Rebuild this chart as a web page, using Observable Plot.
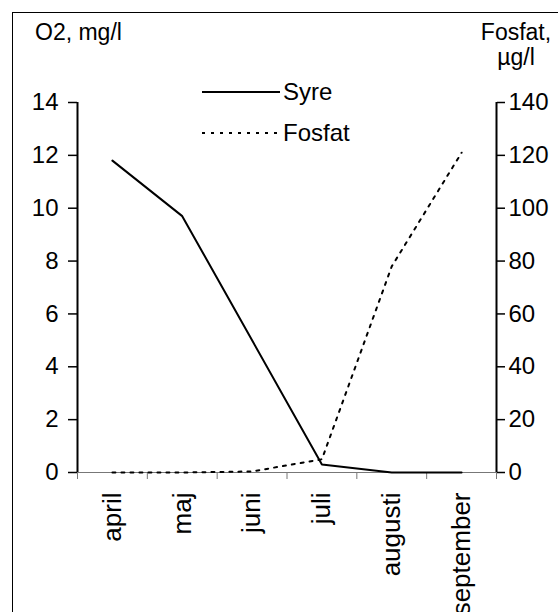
<!DOCTYPE html>
<html><head><meta charset="utf-8">
<script src="https://cdn.jsdelivr.net/npm/d3@7"></script>
<script src="https://cdn.jsdelivr.net/npm/@observablehq/plot@0.6"></script>
<style>
html,body{margin:0;padding:0;background:#fff;}
body{width:558px;height:612px;overflow:hidden;position:relative;font-family:"Liberation Sans",Arial,sans-serif;}
#frame{position:absolute;left:12px;top:12px;width:800px;height:800px;border:1px solid #000;box-sizing:border-box;}
#chart{position:absolute;left:0;top:0;}
.lbl{position:absolute;font-size:23px;line-height:25px;color:#000;white-space:nowrap;}
#legend{position:absolute;left:0;top:0;}
</style></head><body>
<div id="frame"></div>
<div id="chart"></div>
<div class="lbl" style="left:35px;top:20px">O2, mg/l</div>
<div class="lbl" style="left:456px;top:20px;width:120px;text-align:center">Fosfat,<br>µg/l</div>
<div id="legend"></div>
<script>
const months = ["april", "maj", "juni", "juli", "augusti", "september"];
const syre = [11.8, 9.7, 5.0, 0.3, 0, 0];
const fosfat = [0, 0, 0.4, 5, 78, 121];
const o2Ticks = [0, 2, 4, 6, 8, 10, 12, 14];
const fosfatTicks = [0, 20, 40, 60, 80, 100, 120, 140];
const seriesNames = ["Syre", "Fosfat"];

const ratio = fosfatTicks[fosfatTicks.length - 1] / o2Ticks[o2Ticks.length - 1];
const rows = months.map((m, i) => ({month: m, pos: i + 0.5, syre: syre[i], fosfat: fosfat[i]}));
const bounds = d3.range(months.length + 1);
const yMin = o2Ticks[0], yMax = o2Ticks[o2Ticks.length - 1];

const chart = Plot.plot({
  width: 558, height: 612,
  marginLeft: 77, marginRight: 62, marginTop: 102, marginBottom: 140,
  style: {fontFamily: "Liberation Sans, Arial, sans-serif", fontSize: "24px", color: "#000", background: "transparent", overflow: "visible"},
  x: {type: "linear", domain: [0, months.length]},
  y: {domain: [yMin, yMax]},
  marks: [
    Plot.axisX(bounds, {anchor: "bottom", tickSize: 7, tickFormat: () => "", stroke: "#777", strokeWidth: 1, label: null}),
    Plot.axisX(rows.map(r => r.pos), {anchor: "bottom", tickSize: 0, tickPadding: 20, tickRotate: -90,
      tickFormat: d => months[Math.floor(d)], label: null, fontSize: 26, fill: "#000"}),
    Plot.axisY(o2Ticks, {anchor: "left", tickSize: 9, tickPadding: 10, stroke: "#000", strokeWidth: 1.5, label: null, fontSize: 24, fill: "#000"}),
    Plot.axisY(o2Ticks, {anchor: "right", tickSize: 8, tickPadding: 4, stroke: "#000", strokeWidth: 1.5, label: null, fontSize: 24, fill: "#000",
      tickFormat: d => fosfatTicks[o2Ticks.indexOf(d)]}),
    Plot.ruleY([yMin], {stroke: "#777", strokeWidth: 1}),
    Plot.ruleX([0, months.length], {y1: yMin, y2: yMax, stroke: "#000", strokeWidth: 2}),
    Plot.line(rows, {x: "pos", y: "syre", stroke: "#000", strokeWidth: 2}),
    Plot.line(rows, {x: "pos", y: d => d.fosfat / ratio, stroke: "#000", strokeWidth: 2, strokeDasharray: "3,6"})
  ]
});
document.getElementById("chart").appendChild(chart);

// legend overlay
const leg = d3.select("#legend").append("svg").attr("width", 558).attr("height", 160)
  .style("position", "absolute").style("left", "0px").style("top", "0px");
const legY = [92, 133];
seriesNames.forEach((name, i) => {
  leg.append("line").attr("x1", 202).attr("x2", 280).attr("y1", legY[i]).attr("y2", legY[i])
    .attr("stroke", "#000").attr("stroke-width", 2).attr("stroke-dasharray", i === 1 ? "3,6" : null);
  leg.append("text").attr("x", 283).attr("y", legY[i]).attr("dy", "0.35em")
    .attr("font-family", "Liberation Sans, Arial, sans-serif").attr("font-size", 24).text(name);
});
</script>
</body></html>
